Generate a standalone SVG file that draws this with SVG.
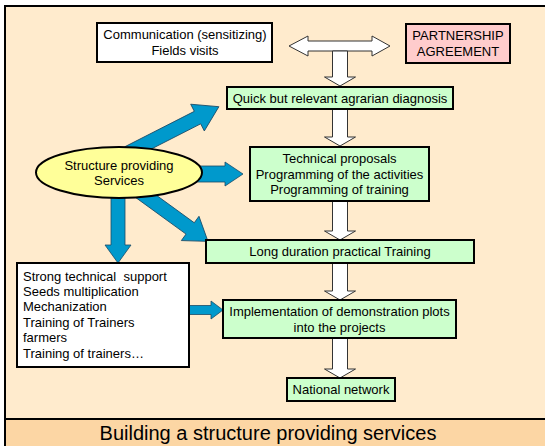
<svg xmlns="http://www.w3.org/2000/svg" width="545" height="446" viewBox="0 0 545 446">
<style>
text{font-family:"Liberation Sans",Arial,sans-serif;font-size:13px;fill:#000}
.c{text-anchor:middle}
.box{stroke:#000;stroke-width:2}
.g{fill:#CCFFCC}
.w{fill:#FFFFFF}
.wa{fill:#FFFFFF;stroke:#333;stroke-width:1}
.ba{fill:#0099CC;stroke:#1a4a66;stroke-width:0.8}
</style>
<rect x="0" y="0" width="545" height="446" fill="#FFFFFF"/>
<rect x="5" y="6" width="550" height="450" fill="#FFEBCD" stroke="#000" stroke-width="2"/>
<rect x="5" y="419" width="550" height="40" fill="#FCD6A4" stroke="#000" stroke-width="2"/>
<text x="268" y="440" class="c" style="font-size:20px">Building a structure providing services</text>

<g id="connectors">
<path class="wa" d="M289,46 L308,36 L308,41 L372,41 L372,36 L390,46 L372,56 L372,51 L308,51 L308,56 Z"/>
<path class="wa" d="M332.5,51 L347.5,51 L347.5,77 L355.5,77 L340,86 L324.5,77 L332.5,77 Z"/>
<path class="wa" d="M332.5,109 L347.5,109 L347.5,137 L355.5,137 L340,146 L324.5,137 L332.5,137 Z"/>
<path class="wa" d="M332.5,201 L347.5,201 L347.5,231 L355.5,231 L340,240 L324.5,231 L332.5,231 Z"/>
<path class="wa" d="M332.5,263 L347.5,263 L347.5,291 L355.5,291 L340,300 L324.5,291 L332.5,291 Z"/>
<path class="wa" d="M332.5,338 L347.5,338 L347.5,369 L355.5,369 L340,378 L324.5,369 L332.5,369 Z"/>
<path class="ba" transform="translate(128,153) rotate(-27)" d="M0,-7 L78,-7 L78,-15 L102,0 L78,15 L78,7 L0,7 Z"/>
<path class="ba" d="M195,166 L225,166 L225,162 L243,174 L225,186 L225,182 L195,182 Z"/>
<path class="ba" transform="translate(140,192) rotate(36)" d="M0,-7 L62,-7 L62,-15 L84,0 L62,15 L62,7 L0,7 Z"/>
<path class="ba" d="M111,196 L125,196 L125,245 L131,245 L118,263 L105,245 L111,245 Z"/>
<path class="ba" d="M174,305.5 L211,305.5 L211,301 L223,310 L211,319 L211,314.5 L174,314.5 Z"/>
</g>

<g id="communication">
<rect class="box w" x="97" y="23" width="175" height="39"/>
<text x="185" y="39" class="c">Communication (sensitizing)</text>
<text x="185" y="55" class="c">Fields visits</text>
</g>
<g id="partnership">
<rect class="box" fill="#FFCCCC" x="406" y="24" width="104" height="39"/>
<text x="458" y="40" class="c">PARTNERSHIP</text>
<text x="458" y="56" class="c">AGREEMENT</text>
</g>
<g id="diagnosis">
<rect class="box g" x="227" y="87" width="226" height="22"/>
<text x="340" y="103" class="c">Quick but relevant agrarian diagnosis</text>
</g>
<g id="proposals">
<rect class="box g" x="250" y="147" width="179" height="54"/>
<text x="339.5" y="163" class="c">Technical proposals</text>
<text x="339.5" y="179" class="c">Programming of the activities</text>
<text x="339.5" y="194" class="c">Programming of training</text>
</g>
<g id="structure">
<ellipse cx="119" cy="172.5" rx="83" ry="25.5" fill="#FFFF99" stroke="#000" stroke-width="2"/>
<text x="119" y="170" class="c">Structure providing</text>
<text x="119" y="185" class="c">Services</text>
</g>
<g id="training">
<rect class="box g" x="206" y="240" width="268" height="23"/>
<text x="340" y="256" class="c">Long duration practical Training</text>
</g>
<g id="support">
<rect class="box w" x="17" y="263" width="172" height="104"/>
<text x="23" y="281" style="white-space:pre">Strong technical  support</text>
<text x="23" y="296">Seeds multiplication</text>
<text x="23" y="311">Mechanization</text>
<text x="23" y="327">Training of Trainers</text>
<text x="23" y="342">farmers</text>
<text x="23" y="358">Training of trainers…</text>
</g>
<g id="implementation">
<rect class="box g" x="223" y="300" width="233" height="38"/>
<text x="339.5" y="316" class="c">Implementation of demonstration plots</text>
<text x="339.5" y="332" class="c">into the projects</text>
</g>
<g id="network">
<rect class="box g" x="287" y="378" width="108" height="23"/>
<text x="341" y="394" class="c">National network</text>
</g>
</svg>
